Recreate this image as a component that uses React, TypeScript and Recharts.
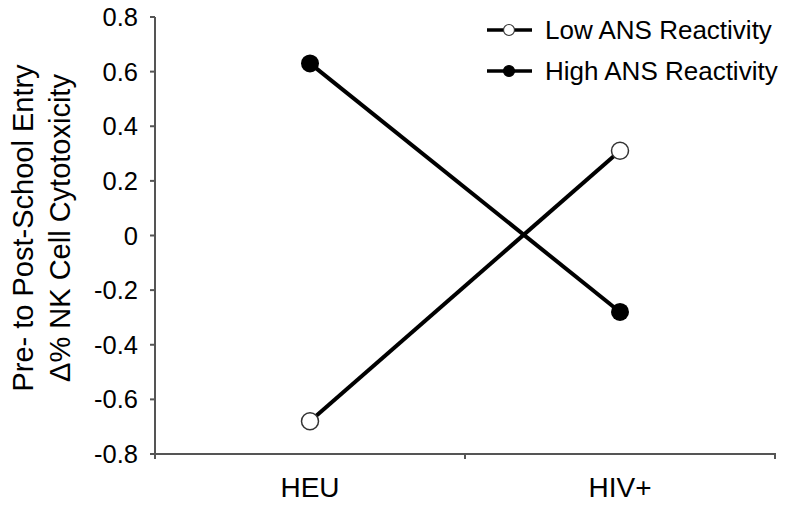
import React from "react";
import { LineChart, Line, XAxis, YAxis, Legend } from "recharts";

const categories = ["HEU", "HIV+"];
const lowANS = [-0.68, 0.31];
const highANS = [0.63, -0.28];
const yTicks = [-0.8, -0.6, -0.4, -0.2, 0, 0.2, 0.4, 0.6, 0.8];
const seriesNames = ["Low ANS Reactivity", "High ANS Reactivity"];
const yTitle = ["Pre- to Post-School Entry", "\u0394% NK Cell Cytotoxicity"];

const FONT = "'Liberation Sans', Arial, Helvetica, sans-serif";
const AXIS = "#555555";

const data = categories.map((c, i) => ({
  pos: i + 0.5,
  name: c,
  low: lowANS[i],
  high: highANS[i],
}));

const xTicks: number[] = [];
for (let i = 0; i <= categories.length; i++) {
  xTicks.push(i);
  if (i < categories.length) xTicks.push(i + 0.5);
}

const XTick = (props: any) => {
  const { x, y, payload } = props;
  const v = payload.value;
  if (Number.isInteger(v)) {
    return <line x1={x} x2={x} y1={y - 1} y2={y + 5} stroke={AXIS} strokeWidth={2} />;
  }
  return (
    <text x={x} y={y + 43} textAnchor="middle" fontSize={28} fill="#000" fontFamily={FONT}>
      {categories[Math.floor(v)]}
    </text>
  );
};

const YTitle = () => (
  <g fontFamily={FONT} fontSize={29} fill="#000">
    <text x={33} y={228} textAnchor="middle" transform="rotate(-90, 33, 228)">
      {yTitle[0]}
    </text>
    <text x={70} y={228} textAnchor="middle" transform="rotate(-90, 70, 228)">
      {yTitle[1]}
    </text>
  </g>
);

const LegendContent = () => (
  <svg width={315} height={95} style={{ display: "block" }}>
    {seriesNames.map((n, i) => {
      const cy = 30 + i * 41;
      return (
        <g key={n}>
          <line x1={17} x2={62} y1={cy} y2={cy} stroke="#000" strokeWidth={3.5} />
          <circle
            cx={39}
            cy={cy}
            r={5.5}
            fill={i === 0 ? "#fff" : "#000"}
            stroke={i === 0 ? "#333" : "#000"}
            strokeWidth={1.2}
          />
          <text x={75} y={cy + 9} fontSize={26} fontFamily={FONT} fill="#000">
            {n}
          </text>
        </g>
      );
    })}
  </svg>
);

export default function App() {
  return (
    <div style={{ position: "absolute", left: 0, top: 0, width: 785, height: 506, background: "#fff" }}>
      <LineChart
        width={785}
        height={506}
        data={data}
        margin={{ top: 17, right: 10, bottom: 22, left: 0 }}
      >
        <XAxis
          dataKey="pos"
          type="number"
          domain={[0, categories.length]}
          ticks={xTicks}
          interval={0}
          height={30}
          tickSize={0}
          tickMargin={0}
          tickLine={false}
          axisLine={{ stroke: AXIS, strokeWidth: 2 }}
          tick={<XTick />}
        />
        <YAxis
          type="number"
          domain={[-0.8, 0.8]}
          ticks={yTicks}
          interval={0}
          width={155}
          tickSize={5}
          tickMargin={12}
          tickLine={{ stroke: AXIS, strokeWidth: 2 }}
          axisLine={{ stroke: AXIS, strokeWidth: 2 }}
          tick={{ fontSize: 25.5, fill: "#000", fontFamily: FONT }}
          tickFormatter={(v: number) => (v === 0 ? "0" : v.toFixed(1))}
          label={<YTitle />}
        />
        <Legend
          layout="vertical"
          align="center"
          verticalAlign="middle"
          wrapperStyle={{ position: "absolute", top: 0, left: 470, width: 315, height: 95 }}
          content={<LegendContent />}
        />
        <Line
          name={seriesNames[0]}
          dataKey="low"
          stroke="#000"
          strokeWidth={4}
          isAnimationActive={false}
          dot={{ r: 8.5, fill: "#fff", stroke: "#333", strokeWidth: 1.5 }}
          activeDot={false}
        />
        <Line
          name={seriesNames[1]}
          dataKey="high"
          stroke="#000"
          strokeWidth={4}
          isAnimationActive={false}
          dot={{ r: 9, fill: "#000", stroke: "#000", strokeWidth: 0 }}
          activeDot={false}
        />
      </LineChart>
    </div>
  );
}
